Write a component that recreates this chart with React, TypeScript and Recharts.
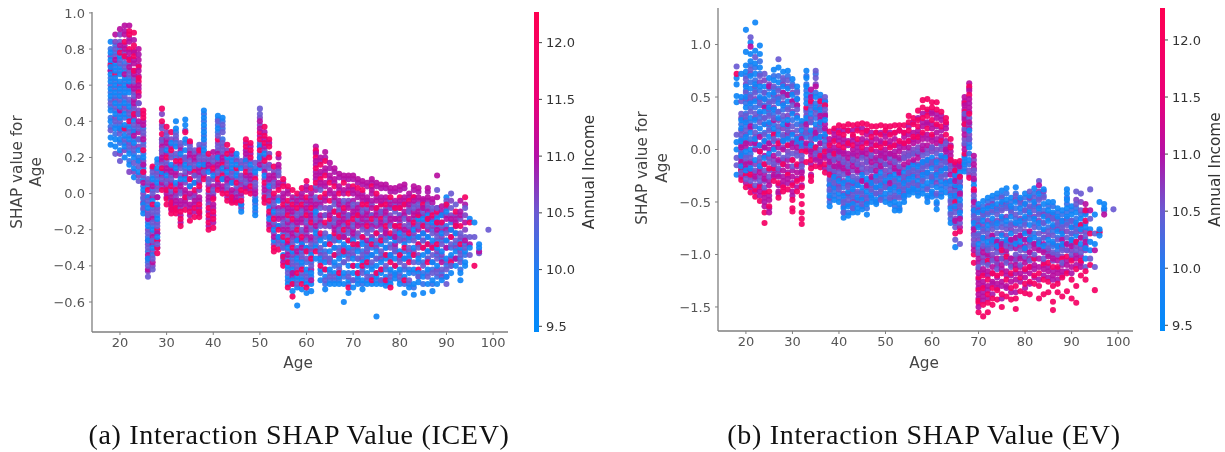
import { BarChart, Bar, ScatterChart, Scatter, XAxis, YAxis } from 'recharts';

// shap values are in hundredths, one row per age: [age, blue, violet, magenta, red]
type Row = [number, number[], number[], number[], number[]];

const incomeTiers = [9.7, 10.5, 11.05, 11.9];
const fillIncomeTiers = [10.15, 10.65, 10.95, 11.9];
const ageTicks = [20, 30, 40, 50, 60, 70, 80, 90, 100];
const shapTicksA = [1, 0.8, 0.6, 0.4, 0.2, 0, -0.2, -0.4, -0.6];
const shapTicksB = [1, 0.5, 0, -0.5, -1, -1.5];
const incomeTicks = [9.5, 10, 10.5, 11, 11.5, 12];

const rowsA: Row[] = [
  [18, [84,78,74,70,66,62,58,54,46,40,31,27], [72,60,50,35], [68], [71]],
  [19, [72,68,64,60,56,50,44,36,30,26], [80,76,58,48,40,22], [88,74], [66]],
  [20, [76,70,66,62,58,54,48,42,36,30,24], [84,72,52,40,33,18], [91,82,46], [78]],
  [21, [68,64,60,56,50,44,38,32,26,20], [75,70,54,46,30], [93,88,80,66], [84,76,36]],
  [22, [62,56,48,42,36,30,22,16], [72,66,52,44,34,26], [93,84,78,70], [88,80,74,40]],
  [23, [40,34,28,20,14,9], [62,54,46,38,24,17], [78,72,66,58,50,32], [89,82,76,68,44]],
  [24, [24,18,12], [50,44,36,30,15,7], [80,74,68,60,54,40], [70,64,56]],
  [25, [20,14,8,2,-6,-11], [34,26,10,-2,-8], [38,30,16,6], [46,42,24,12]],
  [26, [-2,-8,-18,-26,-36], [8,-4,-12,-22,-30,-40,-46], [-14,-34,-42], [2]],
  [27, [8,-4,-20,-30], [12,0,-10,-16,-26,-36,-42], [4,-14,-24,-38], [15,-6]],
  [28, [19,14,6,-6,-14,-24], [10,2,-10,-18,-28], [-2,-22], [-30,-33,-26]],
  [29, [12], [36,30,24,16,8], [26,20,6], [47,40,33,14,2]],
  [30, [24,10], [32,18,6], [28,14,0], [37,20,2,-3,-6]],
  [31, [28,16], [22,8,2], [12,-2], [34,24,4,-5,-8,-11]],
  [32, [40,36,26,14,6], [32,22], [10,-4], [18,2,-8,-11]],
  [33, [22,8], [28,14,0], [4,-6], [18,-10,-14,-18]],
  [34, [41,38,30,24,16,8], [20,12], [2,-4], [34,-2,-9]],
  [35, [14,4], [26,18], [22,0,-6], [29,8,-10,-15]],
  [36, [6], [24,16,10], [20,-4], [12,2,-8,-13]],
  [37, [16], [27,20,8], [12,-2], [24,4,-6,-10,-13]],
  [38, [46,42,38,34,30,24,16], [28,20,12], [10], [14,8]],
  [39, [12], [20,6], [16,-2], [22,2,-8,-12,-16,-20]],
  [40, [10], [18,2], [23,-6], [14,-3,-10,-14,-19]],
  [41, [43,36,20], [40,32,26,12], [22,16], [30,8,2]],
  [42, [42,14,8], [38,34,28,24], [20,4], [16,10,0]],
  [43, [20,12], [16,4], [8], [27,22,0,-4]],
  [44, [18,14,6], [10], [2], [24,-2,-5]],
  [45, [22,16,10], [4], [-2], [14,6,-5]],
  [46, [14,-6,-10], [18,8], [0], [2,-4]],
  [47, [18], [16,6], [22], [30,26,12,1]],
  [48, [16], [12], [10], [28,24,20,4,0]],
  [49, [12,-4,-8,-12], [17,6], [0], [8]],
  [50, [26,20,14], [47,44], [40,36,16], [34,30,24]],
  [51, [22,10], [16], [12,2], [37,32,28,18,6,-2,-5]],
  [52, [4,-8,-14], [14,-2], [8,-16], [30,26,20,-4,-10,-20]],
  [53, [-10,-20,-26], [6,-6,-16], [10,-2,-24], [15,0,-14,-30,-32]],
  [54, [-4,-18,-24], [12,-10,-28], [16,6,-14], [22,2,-20,-31]],
  [55, [-26,-34], [-10,-16,-30], [-2,-20,-38], [8,4,-6,-24,-35,-40]],
  [56, [-30,-40,-46,-50], [-14,-24,-36,-44], [0,-8,-20,-34], [4,-4,-12,-26,-38,-52]],
  [57, [-32,-42,-48,-54], [-18,-28,-38], [-2,-10,-22,-44], [2,-6,-14,-30,-50,-57]],
  [58, [-26,-36,-46,-52,-62], [-12,-22,-40,-50], [-4,-16,-32], [0,-8,-20,-44]],
  [59, [-28,-38,-48,-53], [-10,-20,-34,-44], [-2,-14,-30], [3,-6,-24,-42,-50]],
  [60, [-30,-42,-50,-55], [-16,-26,-36,-46], [2,-8,-20], [7,-2,-12,-32,-52]],
  [61, [-34,-44,-50,-54], [-18,-28,-40], [-4,-12,-24,-48], [3,-8,-16,-36]],
  [62, [-10,-22,-30,-36], [-2,-14,-26,4], [26,22,18,10,-6,-18], [24,20,14,6,-32]],
  [63, [-26,-36,-42,-48], [-8,-18,-30,2], [20,12,6,-12], [16,8,-2,-22,-40]],
  [64, [-28,-38,-46,-53], [-12,-22,-34,-48], [23,14,6,-4], [18,10,0,-16,-42]],
  [65, [-24,-32,-42,-50], [-8,-18,-36,-46], [17,10,2,-12], [6,-4,-14,-28]],
  [66, [-30,-38,-44,-50], [-6,-16,-26,-46], [14,8,-2,-20], [4,-10,-22,-34]],
  [67, [-26,-36,-46,-50], [-10,-20,-32,-42], [11,4,-6,-16], [0,-12,-24,-44]],
  [68, [-28,-34,-44,-50,-60], [-4,-18,-38], [10,2,-14,-24], [6,-8,-20,-32]],
  [69, [-30,-40,-48,-55], [-12,-22,-36,-46], [10,4,-8], [0,-16,-26,-52]],
  [70, [-26,-36,-44,-52], [-6,-18,-32,-48], [10,2,-10,-22], [4,-14,-28,-40]],
  [71, [-32,-40,-46,-50], [-14,-24,-36], [8,0,-8,-18], [3,-12,-28,-44]],
  [72, [-28,-38,-48,-53], [-10,-20,-34,-44], [7,-2,-14], [2,-6,-24,-40]],
  [73, [-30,-36,-44,-50], [-8,-22,-30,-46], [6,-2,-12,-26], [-6,-18,-38]],
  [74, [-26,-34,-42,-50], [-12,-20,-38,-46], [8,2,-8], [4,-14,-28,-48]],
  [75, [-32,-40,-46,-50,-68], [-16,-26,-36], [6,-4,-12], [0,-8,-22,-44]],
  [76, [-28,-38,-44,-50], [-10,-20,-32,-48], [5,-4,-16], [-6,-14,-26,-42]],
  [77, [-30,-36,-46,-51], [-14,-24,-40], [5,-2,-10,-22], [-6,-18,-34,-48]],
  [78, [-24,-34,-42,-50], [-8,-18,-30,-46], [3,-6,-14], [-2,-22,-38,-52]],
  [79, [-26,-36,-44,-47], [-10,-20,-32], [3,-4,-14,-24], [-8,-18,-40]],
  [80, [-22,-32,-42,-50], [-12,-26,-38,-46], [4,-4,-14], [-2,-8,-18,-34]],
  [81, [-28,-36,-46,-55], [-14,-22,-40], [5,-2,-10,-20], [-6,-30,-48]],
  [82, [-24,-34,-44,-52], [-10,-18,-30,-48], [0,-6,-14], [-4,-22,-38]],
  [83, [-20,-30,-42,-50,-56], [-8,-26,-38], [4,-4,-12], [-2,-16,-34]],
  [84, [-14,-24,-36,-44,-49], [-6,-18,-30,-46], [3,-2,-10], [-12,-28,-42]],
  [85, [-14,-22,-34,-46,-55], [-10,-26,-40], [-3,-8], [-6,-18,-30]],
  [86, [-12,-24,-32,-42,-50], [-6,-18,-36,-46], [3,-2], [-14,-28,-38]],
  [87, [-16,-26,-38,-48,-54], [-8,-22,-34,-44], [-3], [-12,-30]],
  [88, [-14,-30,-40,-50], [2,-8,-24,-36,-44], [10,-2,-20], [-10,-16,-28]],
  [89, [-12,-22,-32,-48], [-18,-28,-42], [-7,-38], [-16]],
  [90, [-2,-10,-26,-36,-46], [-4,-22,-42,-50], [-14,-30], [-6]],
  [91, [-20,-34,-44], [0,-8,-28,-40], [-14], [-24,-38]],
  [92, [-22,-32,-40], [-6,-26], [-16,-36], [-10,-18]],
  [93, [-30,-44,-48], [-22,-34,-38], [-4,-12], [-18,-28]],
  [94, [-32,-38,-40], [-8,-24,-30], [-16,-26], [-2]],
  [95, [-14,-30], [-24,-34], [-28], [-16]],
  [96, [-16], [-24], [], [-40]],
  [97, [-28,-30], [-33], [-32], []],
  [99, [], [-20], [], []],
];

// the denser mass of points behind the outline rows
const fillA: Row[] = [
  [18, [80,64,56,52,48,42,37], [76,68], [], []],
  [19, [82,78,70,62,54,46,38,33], [84,52,42], [], []],
  [20, [80,74,68,56,50,44,38,28], [88,60,35,22], [], []],
  [21, [72,62,58,52,42,35,28], [78,48,24], [90,82], []],
  [22, [64,58,50,38,32,24,18], [68,46,28,12], [86,75,60], [90]],
  [23, [44,36,30,22], [64,56,48,26,12], [85,74,68,60,52,42,34], [79]],
  [24, [30,20], [46,38,26,18,10], [77,71,65,58,50,44,34], [62]],
  [25, [36,28,22,16,4,-3,-9], [32,18,0], [40,12,-5], [44]],
  [26, [4,-6,-16,-24,-32,-38], [6,-2,-10,-20,-28,-36,-43], [-12,-26], []],
  [27, [10,2,-8,-18,-26,-34], [14,6,-12,-22,-32,-40], [-2,-28], []],
  [28, [17,8,-2,-12,-22,-30], [12,4,-8,-16,-26], [], [-20]],
  [29, [], [44,38,28,22,12,4], [18,10], [30,24]],
  [30, [], [34,26,16,8,2], [30,22,12,4,-2], []],
  [31, [], [30,20,10,0,-4], [26,14,6,-6,-9], []],
  [32, [34,28,20], [30,16,4,-2], [12,0,-6], [-9]],
  [33, [], [26,20,10,2,-8], [24,16,6,-4,-12,-16], []],
  [34, [35,28,20,14], [18,6,-2], [10,0,-6], []],
  [35, [], [24,16,8,-2], [28,20,12,4,-8,-12], []],
  [36, [], [22,14,6,-2], [18,10,0,-6,-10], []],
  [37, [], [25,18,10,2], [22,14,6,-4,-8,-11], []],
  [38, [44,40,36,32,26,22], [18,14], [16,12], []],
  [39, [], [18,8,0,-6], [14,4,-4,-10,-14,-18], []],
  [40, [], [20,8,0], [16,12,4,-2,-8,-12,-16], []],
  [41, [41,38,34], [28,24,18,10], [20,14,6,4], []],
  [42, [40,36,30], [26,22,12], [18,8,2], []],
  [43, [], [24,18,10,2], [14,6,-2], []],
  [44, [20,16], [12,6,-2], [22,8,0,-4], []],
  [45, [20,12], [18,8,0], [2,-4], []],
  [46, [], [16,10,4,-2,-8], [6,-6], []],
  [47, [], [20,14,8], [28,24,18,10,4,3], []],
  [48, [], [18,14,6], [26,22,8,2], []],
  [49, [14,-2,-6,-10], [10,4,-4], [2], []],
  [50, [28,22], [42,38,18], [32,26,20], []],
  [51, [], [24,14,8,0], [34,30,26,20,4,-3], []],
  [52, [], [22,16,6,0,-6,-12], [28,10,2,-12,-18], []],
  [53, [], [12,4,-4,-12,-22,-28], [8,-8,-18], []],
  [54, [], [10,-2,-12,-26], [20,14,4,-8,-18,-24], []],
  [55, [-22,-30,-36], [-12,-18,-28], [6,0,-4,-8,-14], []],
  [56, [-28,-42,-48], [-6,-18,-22,-32,-38], [2,-10,-16,-28], []],
  [57, [-36,-44,-50], [-4,-12,-20,-26,-34,-40], [-8,-16,-24,-46], []],
  [58, [-30,-38,-48], [-2,-10,-18,-26,-34,-42], [-6,-14,-24], []],
  [59, [-32,-40,-46], [-4,-12,-22,-28,-36], [0,-8,-16,-26], []],
  [60, [-32,-38,-44,-48], [-6,-14,-22,-30], [4,-4,-10,-18,-24], []],
  [61, [-30,-38,-46], [-2,-10,-20,-32], [0,-6,-14,-26,-42], []],
  [62, [-12,-20,-28], [-4,-16,-24], [23,16,12,8,2,-8], []],
  [63, [-24,-32,-38,-44], [-4,-14,-24,-34], [18,10,4,-6,-16], []],
  [64, [-24,-32,-42,-50], [-8,-18,-28,-36], [20,12,4,-2,-12], []],
  [65, [-26,-36,-44,-48], [-10,-16,-24,-38], [14,8,0,-8,-18], []],
  [66, [-26,-34,-40,-48], [-4,-14,-24,-30], [12,6,0,-10,-18], []],
  [67, [-24,-30,-40,-48], [-8,-14,-22,-34], [9,2,-4,-12,-18], []],
  [68, [-24,-32,-38,-46], [-6,-12,-22,-30], [8,0,-10,-16], []],
  [69, [-26,-34,-44,-50], [-4,-14,-20,-32], [8,2,-6,-12,-18], []],
  [70, [-24,-30,-40,-48], [-8,-16,-24,-34], [8,0,-4,-12,-20], []],
  [71, [-28,-36,-44,-48], [-6,-12,-22,-30], [6,-2,-10,-16], []],
  [72, [-26,-32,-42,-50], [-8,-16,-24,-36], [5,0,-4,-12,-18], []],
  [73, [-28,-34,-40,-48], [-4,-14,-20,-32], [4,-4,-10,-16], []],
  [74, [-24,-30,-40,-46], [-6,-16,-24,-34], [6,0,-4,-12,-18], []],
  [75, [-28,-36,-44,-48], [-8,-14,-22,-30], [4,-2,-10,-18], []],
  [76, [-24,-34,-42,-48], [-6,-12,-24,-36], [3,-2,-10,-18], []],
  [77, [-26,-34,-42,-49], [-8,-16,-22,-30], [3,-4,-12,-20], []],
  [78, [-28,-36,-44,-48], [-4,-12,-24,-34], [1,-8,-16], []],
  [79, [-24,-32,-40,-45], [-6,-14,-22,-30], [1,-8,-18,-28], []],
  [80, [-26,-34,-44,-48], [-8,-16,-24,-36], [2,-6,-12,-20], []],
  [81, [-24,-32,-42,-50], [-6,-18,-26,-36], [3,-4,-12], []],
  [82, [-26,-36,-42,-50], [-8,-16,-24,-32], [-2,-10,-20], []],
  [83, [-24,-34,-44,-52], [-6,-14,-22,-32], [2,-2,-10,-18], []],
  [84, [-18,-28,-38,-46], [-8,-16,-24,-34], [1,-4,-12,-20], []],
  [85, [-18,-26,-38,-44,-50], [-8,-16,-30], [-4,-12,-22], []],
  [86, [-16,-28,-36,-44], [-8,-14,-24,-32], [1,-4,-10,-20], []],
  [87, [-20,-30,-42,-50], [-10,-18,-28,-38], [-5,-14], []],
  [88, [-18,-26,-34,-46], [-12,-22,-32,-42], [-8,-16], []],
  [89, [-16,-26,-36,-44], [-12,-24,-34,-46], [-10,-20], []],
  [90, [-6,-18,-30,-40], [-12,-26,-38,-46], [-8,-20], []],
  [91, [-16,-30,-40], [-4,-12,-24,-36], [-20], []],
  [92, [-18,-28,-36], [-12,-22,-30], [-14], []],
  [93, [-26,-36,-42], [-14,-24,-32], [-10], []],
  [94, [-28,-34], [-12,-20], [-6], []],
];

const rowsB: Row[] = [
  [18, [68,62,51,45,7,0,-24], [79,14,-8,-15], [], [72]],
  [19, [72,50,28,20,8,-6,-16], [46,34,14,-22], [2,-12], [-29,-20]],
  [20, [114,93,80,74,60,50,40,26,12,-2,-20], [67,54,32,18,-8,-28], [6,-14], [-36,-24]],
  [21, [102,91,84,70,58,44,30,16,0,-18], [107,76,50,36,-8,-30], [98,22,-12], [-41,-34,-24]],
  [22, [121,94,82,72,62,46,28,10,-10], [88,54,34,16,-20,-34], [6,-26], [-45,-38]],
  [23, [99,91,78,60,50,36,20,4,-16], [70,44,26,-8,-30], [12,-22,-40], [-2,-36,-49]],
  [24, [60,48,36,24,8,-8], [72,54,30,14,-20,-36], [40,2,-28,-46,-54], [-14,-42,-60,-70]],
  [25, [68,52,40,26,12,-4], [44,32,18,-12,-26], [60,6,-34,-48,-60], [-18,-40,-54]],
  [26, [76,66,54,38,20,0], [60,46,30,10,-14], [28,-6,-24], [14,-18,-30]],
  [27, [78,64,44,30,14], [86,56,36,22,-4,-18], [-10,-26,-40], [6,-32,-46]],
  [28, [74,60,42,24,8], [68,50,32,14,-8], [54,0,-20,-30], [-14,-36,-40]],
  [29, [75,58,46,28,10], [66,38,18,-6], [52,24,-16,-28], [4,-24,-38]],
  [30, [67,52,34,14], [60,42,22,-4,-16], [46,6,-26,-40], [-10,-34,-48,-56,-59]],
  [31, [60,48,30,10], [54,38,18,-6], [42,2,-22], [-14,-30,-40]],
  [32, [27,18,6], [22,-6,-16], [10,-22], [-2,-28,-36,-44,-52,-60,-71,-66]],
  [33, [75,68,60,52,44,30], [36,16], [24,6], [40,-2,-12]],
  [34, [34,18,4], [42,26,10], [57,50,-2], [46,-10,-18,-26,-30]],
  [35, [50,40,24,10], [75,68,34,-4], [60,16,-10], [2,-16]],
  [36, [52,38,26,12], [44,18,0], [32,6,-12], [46,-6,-17]],
  [37, [46,28,14], [50,38,4], [32,20,-8], [42,-2,-14,-22]],
  [38, [-34,-44,-54], [-6,-18,-28,-38], [10,0,-12], [17,4,-24]],
  [39, [-26,-36,-48], [-10,-20,-32], [14,2,-16], [20,8,-4]],
  [40, [-30,-42,-50], [-8,-22,-38], [12,-2,-14], [23,16,4]],
  [41, [-32,-44,-56,-65], [-12,-24,-50,-60], [10,-4,-18], [22,14,2]],
  [42, [-28,-40,-54,-63], [-16,-36,-48], [8,-8,-22], [24,18,6]],
  [43, [-30,-38,-52,-60], [-10,-26,-44,-56], [12,0,-16], [23,14,4]],
  [44, [-34,-46,-56,-60], [-14,-28,-40], [6,-6,-20], [24,18,10]],
  [45, [-24,-36,-48,-57], [-8,-18,-42,-52], [10,-2,-30], [25,16,2]],
  [46, [-28,-40,-52,-62], [-12,-22,-46], [14,-4,-34], [24,18,6]],
  [47, [-32,-44,-50], [-6,-20,-38], [8,-12,-26], [22,12,0]],
  [48, [-26,-36,-48,-52], [-16,-30,-42], [10,-2,-20], [22,16,4]],
  [49, [-22,-34,-46], [-10,-28,-40,-48], [6,-6,-16], [23,14,2]],
  [50, [-30,-42,-50], [-14,-24,-36], [12,0,-8], [22,18,6]],
  [51, [-26,-38,-52], [-8,-20,-46], [8,-4,-32], [22,14,2]],
  [52, [-24,-36,-50,-58], [-12,-30,-44], [10,-6,-18], [23,16,4]],
  [53, [-28,-40,-52,-58], [-16,-34,-46], [6,-2,-22], [23,18,8]],
  [54, [-22,-32,-44,-50], [-8,-26,-38], [12,2,-14], [23,16,6]],
  [55, [-18,-28,-38,-43], [-6,-22,-34], [14,2,-12], [32,26,18,8]],
  [56, [-14,-26,-36,-41], [-4,-20,-32], [16,6,-10], [30,24,12]],
  [57, [-16,-30,-38,-44], [-2,-22,-34], [18,8,-8], [37,28,22,12]],
  [58, [-12,-24,-34,-42], [-6,-18,-30], [22,10,0], [47,40,30,16]],
  [59, [-10,-22,-32,-44,-50], [-4,-16,-38], [26,14,4], [48,38,32,20]],
  [60, [-8,-18,-30,-40,-45], [2,-12,-26], [34,20,8], [45,40,28,14]],
  [61, [-12,-24,-36,-50,-57], [-4,-18,-42], [30,16,6], [45,38,24]],
  [62, [-6,-20,-30,-38,-45], [4,-14,-26], [28,12], [36,22,8]],
  [63, [-8,-18,-32,-41], [6,-12,-24], [20,0], [30,26,14]],
  [64, [-30,-44,-56,-70], [-16,-38,-50,-62], [-6,-24], [10,2,-10]],
  [65, [-24,-34,-44,-54,-93], [-40,-60,-74,-86], [-14,-30,-68], [-12,-20,-50,-80]],
  [66, [-22,-36,-48,-60], [-30,-54,-70,-90], [-16,-42,-66], [-11,-26,-78]],
  [67, [-8,-14,-21], [6,20,34], [50,42,28,14,0], [44,36,24,-4]],
  [68, [2,-10,18], [-20,10,30], [63,56,48,40,26], [60,52,34,-27]],
  [69, [-34,-58,-70], [-20,-44,-64,-82,-90], [-6,-14,-28,-50,-76,-96], [-38,-100,-108]],
  [70, [-52,-60,-74,-90], [-66,-82,-98,-112], [-104,-118,-128,-138,-150], [-122,-134,-144,-155]],
  [71, [-49,-58,-68,-84], [-62,-78,-92,-108], [-98,-114,-126,-140], [-120,-132,-148,-159]],
  [72, [-46,-56,-72,-88], [-60,-80,-96,-110], [-100,-116,-130], [-106,-124,-138,-146,-155]],
  [73, [-44,-54,-66,-86], [-58,-76,-94,-106], [-82,-112,-126], [-118,-132,-142,-148]],
  [74, [-42,-52,-70,-92], [-62,-80,-98,-114], [-88,-104,-128], [-120,-134,-143]],
  [75, [-39,-50,-64,-82], [-46,-58,-74,-104], [-90,-110,-126], [-96,-118,-138,-150]],
  [76, [-37,-48,-68,-86], [-56,-76,-92,-108], [-96,-116,-130], [-102,-124,-140]],
  [77, [-46,-54,-64,-80], [-60,-72,-94,-112], [-86,-104,-126], [-118,-132,-143]],
  [78, [-36,-50,-70,-90], [-44,-62,-78,-100], [-84,-110,-124], [-114,-130,-142,-152]],
  [79, [-46,-56,-68,-88], [-52,-76,-96,-110], [-82,-104,-118], [-122,-135]],
  [80, [-42,-52,-64,-80,-94], [-58,-72,-102], [-86,-108,-122], [-114,-128,-137]],
  [81, [-44,-60,-72,-86], [-40,-54,-92,-106], [-78,-98,-118], [-112,-126,-138]],
  [82, [-37,-50,-66,-84], [-46,-58,-74,-100], [-90,-110], [-104,-120,-128]],
  [83, [-42,-56,-70,-90], [-30,-48,-62,-80], [-34,-96,-112], [-118,-130,-142]],
  [84, [-38,-52,-64,-76,-92], [-46,-70,-84,-104], [-98,-114], [-110,-124,-138]],
  [85, [-50,-58,-68,-86], [-62,-78,-94], [-102,-116], [-108,-126,-136]],
  [86, [-50,-60,-72,-88], [-66,-82,-98], [-104,-120], [-112,-130,-145,-153]],
  [87, [-56,-64,-78,-92], [-70,-86,-100], [-106,-118], [-112,-128,-136]],
  [88, [-58,-68,-80,-90], [-74,-96,-108], [-86,-116], [-104,-122,-140]],
  [89, [-38,-42,-48,-56,-64], [-72,-84,-96], [-90,-110], [-102,-118,-135]],
  [90, [-54,-62,-74,-86], [-68,-80,-100], [-92,-112], [-106,-124,-142]],
  [91, [-60,-70,-82], [-40,-52,-78,-96], [-104], [-88,-114,-130,-146]],
  [92, [-66,-76,-90], [-42,-58,-98], [-84,-112], [-72,-106,-120]],
  [93, [-62,-74,-94,-104], [-82,-112], [-52,-88], [-58,-68,-116,-124]],
  [94, [-76,-88,-96], [-38,-66,-104], [-58], [-80,-110]],
  [95, [-62,-90], [-80,-112], [-96], [-134]],
  [96, [-50,-76,-82], [-78], [], [-79]],
  [97, [-52,-56], [-58], [-62], []],
  [99, [], [-57], [], []],
];

const fillB: Row[] = [
  [19, [24,10,-2,-12], [30,18,4,-8,-20], [-4,-18,-26], []],
  [20, [70,56,44,34,22,8,-6], [62,48,28,14,-12,-24], [2,-18,-32], []],
  [21, [80,64,52,40,26,10,-4], [72,46,20,-14,-26], [6,-20,-36], []],
  [22, [78,66,56,40,22,4], [60,48,30,12,-14,-28], [0,-22,-40], []],
  [23, [84,72,56,42,30,14], [64,48,34,-2,-12,-26], [4,-18,-34,-44], []],
  [24, [54,42,30,16,2], [66,48,24,8,-14,-30], [-6,-24,-40,-50], []],
  [25, [58,46,34,20,6], [62,38,24,-8,-20], [0,-30,-44,-56], []],
  [26, [70,58,48,34,24,8], [52,40,16,-10,-20], [2,-16,-26], []],
  [27, [70,58,48,36,18], [50,28,8,-12,-24], [2,-20,-34,-42], []],
  [28, [66,54,38,28,12], [62,44,20,2,-14], [8,-10,-26,-34], []],
  [29, [70,52,40,22,4], [60,32,12,-2], [16,-10,-22,-32], []],
  [30, [62,46,28,8], [54,36,16,-10], [2,-20,-32,-44], []],
  [31, [56,42,24,6], [48,32,12,-2], [8,-16,-28,-36], []],
  [32, [24,12,2], [14,-10,-20], [4,-14,-26,-34], []],
  [33, [70,62,56,48,38,26,12], [32,20,4], [16,0], []],
  [34, [52,38,26,12], [30,16,0], [44,6,-6,-14,-24], []],
  [35, [72,54,44,30,16,2], [62,38,20,-8], [12,-2], []],
  [36, [48,34,20,6], [40,24,12,-4], [28,-8,-14], []],
  [37, [42,32,18,8], [46,34,0], [24,12,-6,-18], []],
  [38, [-30,-40,-50], [-2,-14,-24,-34,-46], [6,-4,-10,-20], []],
  [39, [-30,-40,-44], [-6,-16,-26,-36], [18,10,-2,-10,-22], []],
  [40, [-26,-36,-46], [-4,-16,-28,-34], [18,8,0,-10,-18], []],
  [41, [-36,-48,-60], [-8,-20,-30,-42,-54], [18,6,-14,-2], []],
  [42, [-32,-44,-52,-60], [-12,-24,-34,-42], [18,4,-4,-18], []],
  [43, [-34,-46,-56], [-6,-20,-32,-40,-50], [18,8,-4,-12], []],
  [44, [-30,-42,-52], [-10,-22,-34,-48], [20,2,-2,-16], []],
  [45, [-28,-40,-54], [-4,-14,-30,-46], [20,6,-6,-22], []],
  [46, [-32,-44,-56], [-8,-18,-36,-50], [18,8,0,-12], []],
  [47, [-28,-40,-46], [-2,-16,-30,-34], [16,4,-8,-20], []],
  [48, [-30,-42,-50], [-10,-24,-36], [16,4,-8,-14], []],
  [49, [-26,-38,-44], [-4,-18,-32], [16,8,-2,-12], []],
  [50, [-26,-36,-46], [-8,-20,-32], [16,6,-4,-14], []],
  [51, [-30,-42,-48], [-4,-16,-36], [16,4,-12,-24], []],
  [52, [-28,-40,-54], [-8,-20,-34,-46], [16,4,-2,-14], []],
  [53, [-32,-44,-56], [-10,-24,-38], [18,2,-8,-18], []],
  [54, [-26,-36,-46], [-4,-18,-30,-42], [16,6,-8], []],
  [55, [-22,-32,-40], [-2,-16,-26], [22,8,-6], []],
  [56, [-18,-30,-38], [0,-12,-24], [26,10,-4], []],
  [57, [-20,-34,-41], [2,-14,-26], [30,14,-4], []],
  [58, [-16,-28,-38], [-2,-12,-22], [34,26,14,4], []],
  [59, [-14,-26,-36,-46], [0,-10,-22], [36,24,10], []],
  [60, [-12,-24,-34,-42], [-2,-14,-28], [36,24,12,2], []],
  [61, [-16,-28,-44,-52], [0,-10,-22,-32], [34,22,10], []],
  [62, [-10,-24,-34,-42], [0,-8,-18], [32,18,6], []],
  [63, [-12,-24,-36], [2,-6,-18,-30], [24,8,-2], []],
  [64, [-34,-48,-60,-66], [-10,-20,-30,-42,-54], [4,-2,-14], []],
  [65, [-28,-38,-48,-70], [-16,-26,-56,-66], [-20,-36,-44], []],
  [66, [-26,-40,-52,-64], [-18,-34,-44,-58], [-14,-30,-74], []],
  [67, [-6,-12,-18], [10,24,30], [46,38,32,18,4], []],
  [68, [6,-4,-14], [14,24,-24], [58,44,36,20,10], []],
  [69, [-30,-48,-62,-74], [-10,-24,-54,-68,-86], [-18,-40,-58,-80,-92], []],
  [70, [-56,-68,-80,-94], [-58,-72,-86,-100], [-108,-114,-124,-132,-142], [-146]],
  [71, [-54,-64,-76,-88], [-60,-72,-84,-102], [-94,-106,-118,-130,-136,-144], []],
  [72, [-50,-62,-76,-92], [-54,-68,-84,-102], [-94,-108,-120,-134,-142], []],
  [73, [-48,-60,-72,-90], [-52,-70,-82,-100], [-88,-104,-118,-128,-138], []],
  [74, [-46,-58,-74,-86], [-56,-68,-90,-108], [-94,-110,-122,-132], []],
  [75, [-44,-56,-70,-88], [-52,-66,-80,-98], [-92,-104,-114,-130,-142], []],
  [76, [-42,-54,-72,-90], [-52,-64,-82,-100], [-88,-106,-120,-132], []],
  [77, [-50,-58,-70,-88], [-56,-76,-86,-104], [-92,-110,-120,-136], []],
  [78, [-42,-56,-66,-84], [-48,-72,-88,-106], [-94,-104,-118,-136], []],
  [79, [-50,-60,-72,-84], [-48,-66,-82,-102], [-92,-112,-126], []],
  [80, [-46,-58,-70,-86], [-52,-66,-78,-96], [-92,-104,-116,-132], []],
  [81, [-48,-56,-66,-80], [-46,-62,-84,-98], [-88,-104,-112,-128], []],
  [82, [-42,-54,-70,-80], [-52,-64,-90,-104], [-94,-114,-122], []],
  [83, [-46,-60,-74,-86], [-40,-54,-68,-94], [-88,-104,-124], []],
  [84, [-44,-58,-70,-84], [-40,-62,-78,-96], [-90,-108,-120], []],
  [85, [-54,-62,-74,-90], [-66,-82,-100], [-96,-112,-122], []],
  [86, [-54,-66,-78,-92], [-62,-74,-90,-106], [-100,-116,-124], []],
  [87, [-60,-72,-84,-96], [-66,-76,-92], [-102,-114,-124], []],
  [88, [-62,-72,-84,-94], [-68,-78,-102], [-92,-110,-120], []],
  [89, [-46,-52,-60,-70], [-66,-78,-90], [-96,-106,-116], []],
  [90, [-58,-68,-80,-90], [-74,-86,-96], [-104,-118], []],
  [91, [-56,-66,-76,-88], [-48,-72,-92], [-100,-110], []],
  [92, [-62,-72,-84], [-50,-78,-94], [-102,-108], []],
  [93, [-58,-70,-86], [-78,-96], [-60,-92], []],
];

// the shap red/blue map, by income
const colourStops: [number, string][] = [
  [9.45, '#008bfb'], [10.0, '#217df2'], [10.5, '#6a5ad2'], [11.0, '#b410a6'], [11.5, '#ea0078'], [12.28, '#ff0051'],
];

// 0-255 channels between two stops
function colourOf(income: number) {
  const i = colourStops.findIndex((s) => income < s[0]);
  const hi = colourStops[i < 0 ? colourStops.length - 1 : Math.max(i, 1)];
  const lo = colourStops[i < 0 ? colourStops.length - 2 : Math.max(i, 1) - 1];
  const t = Math.min(1, (income - lo[0]) / (hi[0] - lo[0]));
  const ch = (c: string, at: number) => parseInt(c.slice(at, at + 2), 16);
  const mix = [1, 3, 5].map((at) => Math.round(ch(lo[1], at) + (ch(hi[1], at) - ch(lo[1], at)) * t));
  return `rgb(${mix.join(',')})`;
}

function buildPoints(fill: Row[], rows: Row[]) {
  const points: { age: number; shap: number; income: number }[] = [];
  const tagged: [Row, number[]][] = [
    ...fill.map((r): [Row, number[]] => [r, fillIncomeTiers]),
    ...rows.map((r): [Row, number[]] => [r, incomeTiers]),
  ];
  tagged.sort((a, b) => a[0][0] - b[0][0]);
  tagged.forEach(([[age, ...tiers], incomes]) => {
    const longest = Math.max(...tiers.map((t) => t.length));
    for (let i = 0; i < longest; i++) {
      tiers.forEach((t, k) => {
        if (i < t.length) points.push({ age, shap: t[i] / 100, income: incomes[k] });
      });
    }
  });
  return points;
}

const GRAY = '#7f7f7f';
const TICK = { fontFamily: 'DejaVu Sans', fontSize: 13, fill: '#555' };
const TITLE = { fontFamily: 'DejaVu Sans', fontSize: 15.3, fill: '#444' };

const dot = (props: any) => (
  <circle cx={props.cx} cy={props.cy} r={3.05} fill={colourOf(props.payload.income)} fillOpacity={0.92} />
);

const minus = (v: number, digits: number) => v.toFixed(digits).replace('-', '\u2212');

interface PanelProps {
  data: ReturnType<typeof buildPoints>;
  left: number;
  top: number;
  plotHeight: number;
  axisWidth: number;
  yDomain: [number, number];
  yTicks: number[];
  titleX: [number, number];
}

function Panel({ data, left, top, plotHeight, axisWidth, yDomain, yTicks, titleX }: PanelProps) {
  const cy = top + 160;
  return (
    <div style={{ position: 'absolute', left, top: 0 }}>
      <ScatterChart width={520} height={380} margin={{ top, right: 12, bottom: 0, left: 0 }}>
        <XAxis
          type="number"
          dataKey="age"
          domain={[14, 103.2]}
          ticks={ageTicks}
          interval={0}
          height={380 - top - plotHeight}
          tick={TICK}
          tickSize={3}
          tickMargin={3}
          stroke={GRAY}
          axisLine={{ stroke: GRAY, strokeWidth: 1.3 }}
        />
        <YAxis
          type="number"
          dataKey="shap"
          domain={yDomain}
          ticks={yTicks}
          interval={0}
          width={axisWidth}
          tick={TICK}
          tickSize={3}
          tickMargin={4}
          stroke={GRAY}
          axisLine={{ stroke: GRAY, strokeWidth: 1.3 }}
          tickFormatter={(v: number) => minus(v, 1)}
        />
        <Scatter data={data} shape={dot} isAnimationActive={false} />
        <text x={axisWidth + 206} y={368} textAnchor="middle" {...TITLE}>Age</text>
        <text transform={`translate(${titleX[0]},${cy}) rotate(-90)`} textAnchor="middle" {...TITLE}>SHAP value for</text>
        <text transform={`translate(${titleX[1]},${cy}) rotate(-90)`} textAnchor="middle" {...TITLE}>Age</text>
      </ScatterChart>
    </div>
  );
}

function ColourBar({ id, left, top, plotHeight, domain }: { id: string; left: number; top: number; plotHeight: number; domain: [number, number] }) {
  const bar = [{ name: 'income', range: domain }];
  return (
    <div style={{ position: 'absolute', left, top: 0 }}>
      <BarChart
        width={90}
        height={340}
        data={bar}
        barCategoryGap={0}
        margin={{ top, right: 0, bottom: 340 - top - plotHeight, left: 14 }}
      >
        <defs>
          <linearGradient id={id} x1="0" y1="1" x2="0" y2="0">
            {colourStops.map(([v, c]) => (
              <stop key={v} offset={(v - domain[0]) / (domain[1] - domain[0])} stopColor={c} />
            ))}
          </linearGradient>
        </defs>
        <XAxis dataKey="name" hide />
        <YAxis
          type="number"
          orientation="right"
          domain={domain}
          ticks={incomeTicks}
          interval={0}
          width={71}
          tick={{ ...TICK, fill: '#333' }}
          tickSize={3}
          tickMargin={4}
          stroke="#444"
          axisLine={false}
          tickFormatter={(v: number) => v.toFixed(1)}
        />
        <Bar dataKey="range" fill={`url(#${id})`} isAnimationActive={false} />
        <text transform={`translate(74,${top + plotHeight / 2}) rotate(-90)`} textAnchor="middle" {...TITLE} fill="#333">Annual Income</text>
      </BarChart>
    </div>
  );
}

const captionStyle: React.CSSProperties = {
  position: 'absolute',
  top: 419,
  fontFamily: 'Liberation Serif',
  fontSize: 28,
  letterSpacing: 0.7,
  lineHeight: '32px',
  color: '#111',
  whiteSpace: 'nowrap',
  transform: 'translateX(-50%)',
};

const pointsA = buildPoints(fillA, rowsA);
const pointsB = buildPoints(fillB, rowsB);

export default function App() {
  return (
    <div style={{ position: 'absolute', left: 0, top: 0, width: 1225, height: 452, overflow: 'hidden', background: '#fff', filter: 'blur(0.4px)' }}>
      <Panel data={pointsA} left={0} top={12} plotHeight={320} axisWidth={92} yDomain={[-0.766, 1.005]} yTicks={shapTicksA} titleX={[22, 41]} />
      <ColourBar id="barA" left={520} top={12} plotHeight={320} domain={[9.45, 12.27]} />
      <Panel data={pointsB} left={625} top={8} plotHeight={323} axisWidth={93} yDomain={[-1.729, 1.348]} yTicks={shapTicksB} titleX={[22, 42]} />
      <ColourBar id="barB" left={1146} top={8} plotHeight={323} domain={[9.45, 12.28]} />
      <div style={{ ...captionStyle, left: 299 }}>(a) Interaction SHAP Value (ICEV)</div>
      <div style={{ ...captionStyle, left: 924 }}>(b) Interaction SHAP Value (EV)</div>
    </div>
  );
}
